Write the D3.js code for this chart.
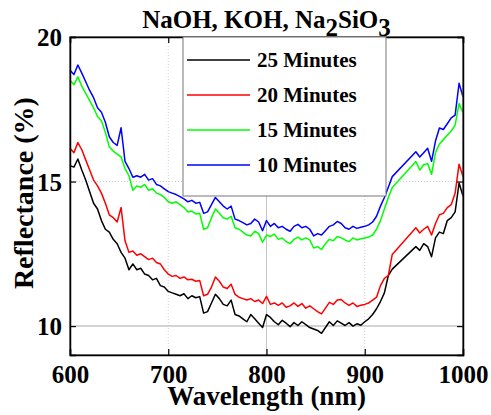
<!DOCTYPE html>
<html lang="en">
<head>
<meta charset="UTF-8">
<title>NaOH, KOH, Na2SiO3 reflectance</title>
<script src="https://d3js.org/d3.v7.min.js"></script>
<style>
  body { margin: 0; background: #fff; }
</style>
</head>
<body>
<div id="chart"></div>
<script>
// wavelengths (nm) - gap between 928 and 952 is in the original data
const wavelength = [
  600,604,608,612,616,620,624,628,632,636,
  640,644,648,652,656,660,664,668,672,676,
  680,684,688,692,696,700,704,708,712,716,
  720,724,728,732,736,740,744,748,752,756,
  760,764,768,772,776,780,784,788,792,796,
  800,804,808,812,816,820,824,828,832,836,
  840,844,848,852,856,860,864,868,872,876,
  880,884,888,892,896,900,904,908,912,916,
  920,924,928,
  952,956,960,964,968,972,976,980,984,988,
  992,996,1000
];

const min25 = [
  15.55,15.50,15.78,15.40,15.05,14.65,14.25,14.05,13.65,13.35,
  13.25,13.00,12.85,12.55,12.35,11.95,12.15,11.95,12.00,11.80,
  11.75,11.60,11.65,11.40,11.35,11.20,11.15,11.10,11.05,11.12,
  10.95,11.05,10.98,11.02,10.45,10.50,10.80,11.10,10.95,10.75,
  10.70,10.90,10.40,10.35,10.25,10.15,10.40,10.25,10.10,9.95,
  10.40,10.30,10.15,10.05,10.20,10.10,9.98,10.12,10.02,10.15,
  10.05,9.95,9.90,9.85,9.75,9.95,10.15,10.02,10.18,10.10,
  10.02,10.12,10.00,10.08,10.03,10.15,10.25,10.40,10.60,10.85,
  11.15,11.75,11.97,
  12.75,12.62,12.85,12.75,12.40,13.05,13.25,13.20,13.65,13.75,
  13.95,14.95,14.50
];

const min20 = [
  16.15,16.00,16.35,16.10,15.75,15.40,15.05,14.85,14.60,14.25,
  13.85,13.75,13.60,14.10,12.95,12.55,12.60,12.45,12.50,12.40,
  12.30,12.35,12.20,12.15,11.95,11.80,11.72,11.75,11.65,11.70,
  11.60,11.62,11.55,11.58,11.05,11.10,11.35,11.70,11.55,11.35,
  11.30,11.45,11.10,11.00,10.95,10.90,10.95,10.85,10.90,10.78,
  11.03,10.75,10.80,10.72,10.80,10.65,10.70,10.80,10.68,10.78,
  10.62,10.70,10.60,10.50,10.42,10.62,10.82,10.75,10.90,10.92,
  10.80,10.72,10.80,10.68,10.72,10.75,10.80,10.90,11.00,11.40,
  11.65,11.75,12.48,
  13.40,13.22,13.35,13.45,13.15,13.55,13.85,13.90,14.10,14.20,
  14.60,15.60,15.17
];

const min15 = [
  18.50,18.35,18.62,18.30,18.05,17.80,17.55,17.25,17.10,16.70,
  16.20,16.05,15.95,15.85,15.45,15.20,14.70,14.85,14.80,14.90,
  14.70,14.75,14.60,14.55,14.45,14.30,14.25,14.30,14.20,14.10,
  13.95,13.98,13.88,13.90,13.35,13.40,13.75,14.05,13.90,13.75,
  13.70,13.80,13.40,13.35,13.25,13.15,13.12,13.28,13.20,12.90,
  13.15,13.10,13.18,13.00,13.05,12.92,12.85,13.00,13.08,12.98,
  13.05,12.98,12.70,12.75,12.65,12.85,13.00,12.95,13.10,13.05,
  12.98,12.92,13.05,12.98,13.02,13.05,13.08,13.15,13.35,13.65,
  14.05,14.45,14.79,
  15.69,15.40,15.58,15.62,15.25,16.00,16.30,16.45,16.60,16.75,
  16.95,17.70,17.38
];

const min10 = [
  18.85,18.70,19.03,18.75,18.45,18.15,17.90,17.55,17.40,17.05,
  16.55,16.35,16.25,16.86,15.70,15.45,15.15,15.20,15.15,15.25,
  15.05,15.10,14.90,14.85,14.75,14.65,14.60,14.55,14.48,14.40,
  14.30,14.35,14.25,14.28,13.90,13.95,14.20,14.45,14.30,14.15,
  14.05,14.15,13.70,13.65,13.58,13.50,13.55,13.70,13.60,13.30,
  13.65,13.45,13.55,13.40,13.45,13.35,13.28,13.45,13.52,13.40,
  13.45,13.35,13.12,13.20,13.15,13.30,13.45,13.50,13.62,13.55,
  13.40,13.35,13.45,13.38,13.42,13.45,13.50,13.60,13.80,14.15,
  14.45,14.80,15.17,
  16.03,15.85,16.00,16.15,15.70,16.40,16.85,16.80,17.00,17.20,
  17.30,18.40,17.93
];

const seriesNames = ["25 Minutes", "20 Minutes", "15 Minutes", "10 Minutes"];
const seriesValues = [min25, min20, min15, min10];
const seriesColors = ["#000000", "#ff0000", "#00ff00", "#0000ff"];

const xTicks = [600, 700, 800, 900, 1000];
const yTicks = [10, 15, 20];

const FONT = "'Liberation Serif', 'Times New Roman', 'DejaVu Serif', serif";

// layout
const W = 491, H = 415;
const margin = { top: 37, right: 28, bottom: 60, left: 70 };
const width = W - margin.left - margin.right;
const height = H - margin.top - margin.bottom;

const svg = d3.select("#chart").append("svg")
  .attr("width", W)
  .attr("height", H);

const g = svg.append("g")
  .attr("transform", "translate(" + margin.left + "," + margin.top + ")");

const x = d3.scaleLinear().domain([600, 1000]).range([0, width]);
const y = d3.scaleLinear().domain([9, 20]).range([height, 0]);

// grid lines
g.selectAll(".vgrid")
  .data([700, 800, 900])
  .enter().append("line")
  .attr("x1", d => x(d)).attr("x2", d => x(d))
  .attr("y1", 0).attr("y2", height)
  .attr("stroke", d => d === 800 ? "#c4c4c4" : "#cfcfcf")
  .attr("stroke-width", 1)
  .attr("stroke-dasharray", d => d === 800 ? null : "1,2");

g.selectAll(".hgrid")
  .data([10, 15])
  .enter().append("line")
  .attr("x1", 0).attr("x2", width)
  .attr("y1", d => y(d)).attr("y2", d => y(d))
  .attr("stroke", d => d === 10 ? "#c4c4c4" : "#cfcfcf")
  .attr("stroke-width", d => d === 10 ? 1.5 : 1)
  .attr("stroke-dasharray", d => d === 10 ? null : "1,2");

// data lines
const line = d3.line()
  .x((d, i) => x(wavelength[i]))
  .y(d => y(d));

g.selectAll(".series")
  .data(seriesValues)
  .enter().append("path")
  .attr("class", "series")
  .attr("d", d => line(d))
  .attr("fill", "none")
  .attr("stroke", (d, i) => seriesColors[i])
  .attr("stroke-width", 1.5)
  .attr("stroke-linejoin", "round");

// frame
g.append("rect")
  .attr("width", width).attr("height", height)
  .attr("fill", "none")
  .attr("stroke", "#444")
  .attr("stroke-width", 1.3);

// axes (inward ticks)
const xAxis = g.append("g")
  .attr("transform", "translate(0," + height + ")")
  .call(d3.axisBottom(x).tickValues(xTicks).tickSize(-6).tickPadding(10).tickFormat(d3.format("d")));
const yAxis = g.append("g")
  .call(d3.axisLeft(y).tickValues(yTicks).tickSize(-6).tickPadding(8));
g.append("g")
  .attr("transform", "translate(" + width + ",0)")
  .call(d3.axisRight(y).tickValues(yTicks).tickSize(-6).tickFormat(""));
g.append("g")
  .call(d3.axisTop(x).tickValues(xTicks).tickSize(-6).tickFormat(""));

g.selectAll(".domain").attr("stroke", "#000").attr("stroke-width", 1.5);
g.selectAll(".tick line").attr("stroke", "#000").attr("stroke-width", 1.2);
xAxis.selectAll("text")
  .style("font-family", FONT).style("font-weight", "bold").style("font-size", "25px");
yAxis.selectAll("text")
  .style("font-family", FONT).style("font-weight", "bold").style("font-size", "25px")
  .attr("dy", "0.35em");

// legend
const legend = g.append("g").attr("transform", "translate(" + (183 - margin.left) + ",0)");
legend.append("rect")
  .attr("width", 203).attr("height", 159)
  .attr("fill", "#fff")
  .attr("stroke", "#777")
  .attr("stroke-width", 1);
seriesNames.forEach((name, i) => {
  const cy = 23 + i * 35;
  legend.append("line")
    .attr("x1", 4).attr("x2", 67)
    .attr("y1", cy).attr("y2", cy)
    .attr("stroke", seriesColors[i])
    .attr("stroke-width", 1.5);
  legend.append("text")
    .attr("x", 74).attr("y", cy + 7)
    .style("font-family", FONT).style("font-weight", "bold")
    .style("font-size", "21px")
    .text(name);
});

// title with subscripts
const title = svg.append("text")
  .attr("x", margin.left + width / 2)
  .attr("y", 28)
  .attr("text-anchor", "middle")
  .style("font-family", FONT).style("font-weight", "bold")
  .style("font-size", "25px");
title.append("tspan").text("NaOH, KOH, Na");
title.append("tspan").attr("dy", 8).text("2");
title.append("tspan").attr("dy", -8).text("SiO");
title.append("tspan").attr("dy", 8).text("3");

// axis labels
svg.append("text")
  .attr("x", margin.left + width / 2)
  .attr("y", 405)
  .attr("text-anchor", "middle")
  .style("font-family", FONT).style("font-weight", "bold")
  .style("font-size", "27px")
  .text("Wavelength (nm)");

svg.append("text")
  .attr("transform", "translate(33," + (margin.top + y(14.6)) + ") rotate(-90)")
  .attr("text-anchor", "middle")
  .style("font-family", FONT).style("font-weight", "bold")
  .style("font-size", "28px")
  .text("Reflectance (%)");
</script>
</body>
</html>
